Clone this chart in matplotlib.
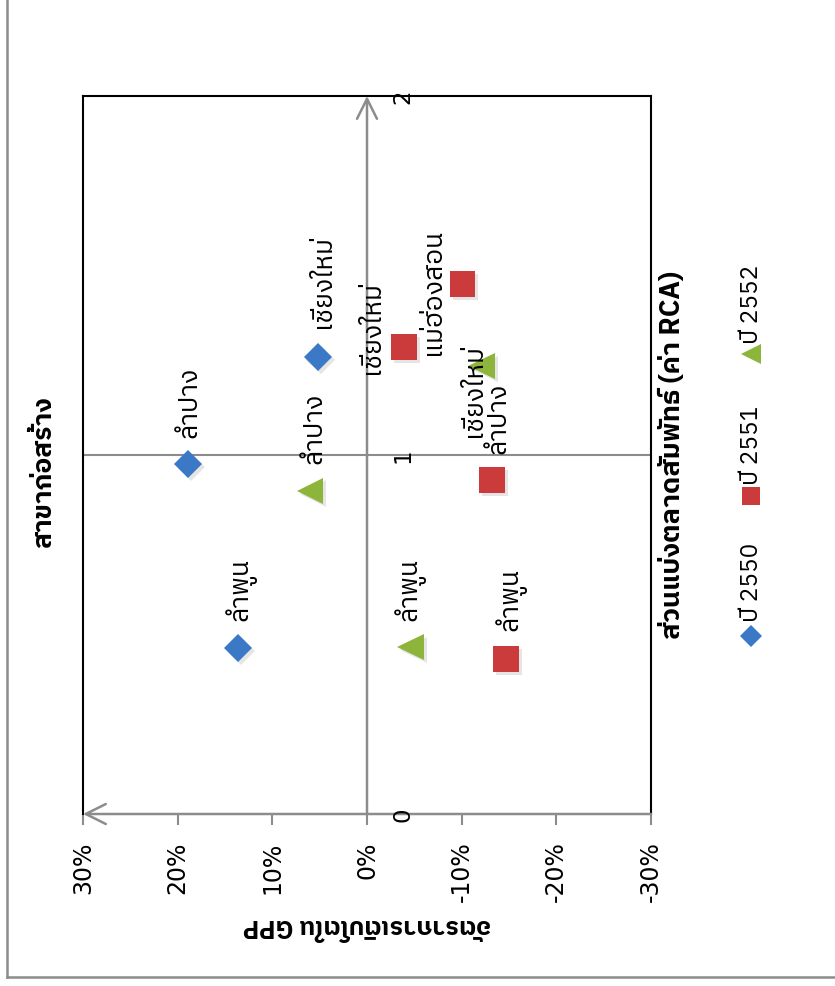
import matplotlib
matplotlib.use("Agg")
import matplotlib.pyplot as plt
import matplotlib.patheffects as pe
from matplotlib import font_manager
from matplotlib.lines import Line2D
from fontTools.ttLib import TTFont

# RCA (x in the source chart) and GPP growth (y) per year
names_2550 = ["ลำพูน", "ลำปาง", "เชียงใหม่"]
rca_2550 = [0.462, 0.975, 1.273]
gpp_2550 = [0.136, 0.189, 0.052]

names_2551 = ["ลำพูน", "ลำปาง", "เชียงใหม่", "แม่ฮ่องสอน"]
rca_2551 = [0.432, 0.930, 1.300, 1.476]
gpp_2551 = [-0.147, -0.132, -0.039, -0.101]

names_2552 = ["ลำพูน", "ลำปาง", "เชียงใหม่"]
rca_2552 = [0.465, 0.900, 1.248]
gpp_2552 = [-0.046, 0.060, -0.121]

years = ["ปี 2550", "ปี 2551", "ปี 2552"]
gpp_ticks = [0.30, 0.20, 0.10, 0.0, -0.10, -0.20, -0.30]
rca_ticks = [0, 1, 2]

W, H = 835, 987


def find_thai_font():
    fonts = sorted(font_manager.fontManager.ttflist,
                   key=lambda f: 0 if "thai" in f.name.lower() else 1)
    for f in fonts:
        try:
            cmap = TTFont(f.fname, fontNumber=0, lazy=True).getBestCmap()
        except Exception:
            continue
        if cmap and 0x0E01 in cmap:
            return f.name
    return "DejaVu Sans"


THAI = find_thai_font()
FAM = [THAI, "DejaVu Sans"]
plt.rcParams["font.family"] = FAM


def fx(x):
    return x / W


def fy(y):
    return 1 - y / H


fig = plt.figure(figsize=(W / 100, H / 100), dpi=100)
ax = fig.add_axes([fx(83), fy(815), fx(651 - 83), (815 - 97) / H])
ax.set_xlim(0.30, -0.30)
ax.set_ylim(0, 2)

grey = "#8c8c8c"
for side in ["left", "top", "right"]:
    ax.spines[side].set_color("black")
    ax.spines[side].set_linewidth(1.5)
ax.spines["bottom"].set_visible(False)

# axis lines with open arrow heads
arrow = dict(arrowstyle="->,head_length=0.8,head_width=0.4", color=grey,
             lw=1.8, mutation_scale=18, shrinkA=0, shrinkB=0)
ax.annotate("", xy=(0.30, 0), xytext=(-0.30, 0), arrowprops=arrow,
            annotation_clip=False)
ax.annotate("", xy=(0, 2), xytext=(0, 0), arrowprops=arrow,
            annotation_clip=False)
ax.axhline(1, color=grey, lw=1.5, zorder=1)

ax.set_xticks(gpp_ticks)
ax.set_xticklabels([f"{t:.0%}" for t in gpp_ticks], rotation=90,
                   fontsize=17, family="DejaVu Sans")
ax.tick_params(axis="x", direction="out", length=8, width=1.5, color=grey,
               pad=11)
ax.set_yticks([])

for v in rca_ticks:
    ax.annotate(str(v), xy=(0, v), xytext=(36, 0), textcoords="offset pixels",
                rotation=90, ha="center", va="center", fontsize=16.5,
                family="DejaVu Sans", annotation_clip=False)

colors = ["#3b78c6", "#cc3b3b", "#8db53c"]
markers = ["D", "s", "<"]
sizes = [14.5, 18.5, 19]
shadow = [pe.SimplePatchShadow(offset=(2, -2), shadow_rgbFace="#999999",
                               alpha=0.25), pe.Normal()]

series = [(names_2550, rca_2550, gpp_2550),
          (names_2551, rca_2551, gpp_2551),
          (names_2552, rca_2552, gpp_2552)]
label_offsets = [
    [(2, 60), (1, 63), (5, 76)],
    [(4, 60), (6, 63), (-32, 21), (-30, -7)],
    [(-1, 59), (4, 64), (-8, -24)],
]

for (names, rca, gpp), c, m, ms, offs in zip(series, colors, markers, sizes,
                                             label_offsets):
    ax.plot(gpp, rca, linestyle="none", marker=m, markersize=ms, color=c,
            markeredgewidth=0, zorder=3, path_effects=shadow)
    for n, xv, yv, (dx, dy) in zip(names, gpp, rca, offs):
        ax.annotate(n, xy=(xv, yv), xytext=(dx, dy),
                    textcoords="offset pixels", rotation=90, ha="center",
                    va="center", fontsize=19, zorder=4)

# titles
fig.text(fx(44), fy(472), "สาขาก่อสร้าง", rotation=90, ha="center",
         va="center", fontsize=19, fontweight="bold")
fig.text(fx(367), fy(926), "อัตราการเติบโตใน GPP", rotation=180,
         ha="center", va="center", fontsize=18, fontweight="bold")
fig.text(fx(672), fy(455), "ส่วนแบ่งตลาดสัมพัทธ์ (ค่า RCA)", rotation=90,
         ha="center", va="center", fontsize=19.5, fontweight="bold")

# legend, laid out along the right edge
leg_marker_y = [637, 497, 355]
leg_text_y = [582, 445, 304]
leg_sizes = [11, 13.5, 14]
for yr, c, m, ms, my, ty in zip(years, colors, markers, leg_sizes,
                                leg_marker_y, leg_text_y):
    fig.add_artist(Line2D([fx(751)], [fy(my)], transform=fig.transFigure,
                          marker=m, markersize=ms, color=c,
                          markeredgewidth=0, linestyle="none"))
    fig.text(fx(751), fy(ty), yr, rotation=90, ha="center", va="center",
             fontsize=17.5)

# outer frame (left and bottom edges)
fig.add_artist(Line2D([fx(7), fx(7)], [1, fy(978)], transform=fig.transFigure,
                      color=grey, lw=1.8))
fig.add_artist(Line2D([fx(7), 1], [fy(978), fy(978)],
                      transform=fig.transFigure, color=grey, lw=1.8))

fig.savefig("out.png", dpi=100)
